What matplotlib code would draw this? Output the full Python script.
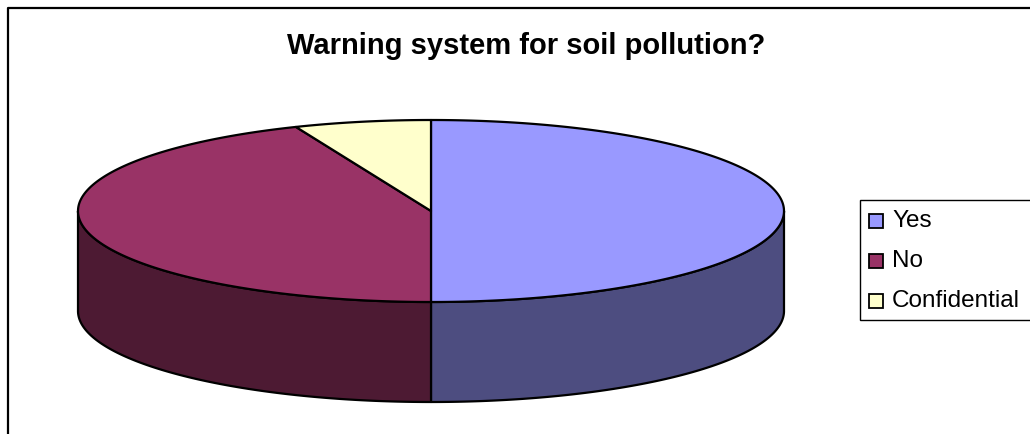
import numpy as np
import matplotlib
matplotlib.use("Agg")
import matplotlib.pyplot as plt
from matplotlib.patches import Rectangle

# answers to the survey question
labels = ["Yes", "No", "Confidential"]
counts = [8, 7, 1]
top_colors = ["#9999FF", "#993366", "#FFFFCC"]
side_colors = ["#4D4D80", "#4D1A33", "#80806A"]
title = "Warning system for soil pollution?"

plt.rcParams["font.family"] = ["Liberation Sans", "DejaVu Sans"]

W, H = 1030, 434
fig = plt.figure(figsize=(W / 100, H / 100), dpi=100)
ax = fig.add_axes([0, 0, 1, 1])
ax.set_xlim(0, W)
ax.set_ylim(H, 0)
ax.axis("off")

# pie geometry (pixel space), angles clockwise from 12 o'clock
cx, cy, a, b, depth = 431, 211, 353, 91, 100


def rim(t0, t1, dy=0.0, n=200):
    t = np.linspace(t0, t1, n)
    return cx + a * np.sin(t), cy - b * np.cos(t) + dy


fracs = np.array(counts) / sum(counts)
edges = np.concatenate([[0], np.cumsum(fracs)]) * 2 * np.pi

# visible sides (front half: pi/2 .. 3pi/2)
for i in range(len(counts)):
    t0, t1 = max(edges[i], np.pi / 2), min(edges[i + 1], 3 * np.pi / 2)
    if t1 <= t0:
        continue
    xs, ys = rim(t0, t1)
    xb, yb = rim(t1, t0, depth)
    ax.fill(np.r_[xs, xb], np.r_[ys, yb], facecolor=side_colors[i],
            edgecolor="black", linewidth=1.6, joinstyle="round", zorder=2)

# top face slices
for i in range(len(counts)):
    xs, ys = rim(edges[i], edges[i + 1])
    ax.fill(np.r_[cx, xs, cx], np.r_[cy, ys, cy], facecolor=top_colors[i],
            edgecolor="black", linewidth=1.6, joinstyle="round", zorder=3)

# chart frame
ax.plot([8, 8, W + 5], [H + 5, 8, 8], color="black", linewidth=1.6,
        solid_capstyle="butt", zorder=5)

ax.text(526, 46, title, ha="center", va="center", fontsize=21,
        fontweight="bold", zorder=6)

# legend box
ax.add_patch(Rectangle((859.5, 200), 180, 120, facecolor="white",
                       edgecolor="black", linewidth=1.0, zorder=4))
for i, lab in enumerate(labels):
    y = 221 + 40 * i
    ax.add_patch(Rectangle((869, y - 7), 14, 14, facecolor=top_colors[i],
                           edgecolor="black", linewidth=1.3, zorder=5))
    ax.text(892, y, lab, ha="left", va="center", fontsize=17.5, zorder=6)

fig.savefig("out.png", dpi=100)
